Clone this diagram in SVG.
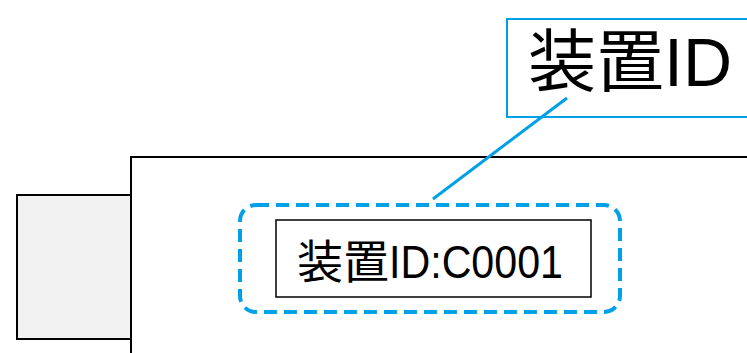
<svg xmlns="http://www.w3.org/2000/svg" width="747" height="353" viewBox="0 0 747 353">
<style>
.blk{fill:none;stroke:#000;stroke-width:2}
.t{font-family:"Liberation Sans","Noto Sans CJK JP",sans-serif;fill:#000}
</style>
<rect width="747" height="353" fill="#fff"/>
<g id="main-device"><rect x="131" y="157" width="630" height="210" class="blk" fill="#fff"/></g>
<g id="side-part"><rect x="17" y="195" width="114" height="144" fill="#f2f2f2" stroke="#000" stroke-width="2"/></g>
<g id="id-area"><rect x="240" y="205" width="380" height="107" rx="16" fill="none" stroke="#00a0e9" stroke-width="4" stroke-dasharray="13 7"/></g>
<g id="id-plate"><rect x="276" y="220" width="315" height="77" fill="#fff" stroke="#000" stroke-width="1.5"/>
<text class="t" y="278" font-size="46"><tspan x="297">装置</tspan><tspan x="389" textLength="174" lengthAdjust="spacingAndGlyphs">ID:C0001</tspan></text></g>
<g id="callout"><rect x="507" y="19" width="260" height="98" fill="#fff" stroke="#00a0e9" stroke-width="2"/>
<text class="t" x="528" y="86" font-size="68">装置ID</text></g>
<g id="connectors"><line x1="567" y1="98" x2="433" y2="199" stroke="#00a0e9" stroke-width="3"/></g>
</svg>
